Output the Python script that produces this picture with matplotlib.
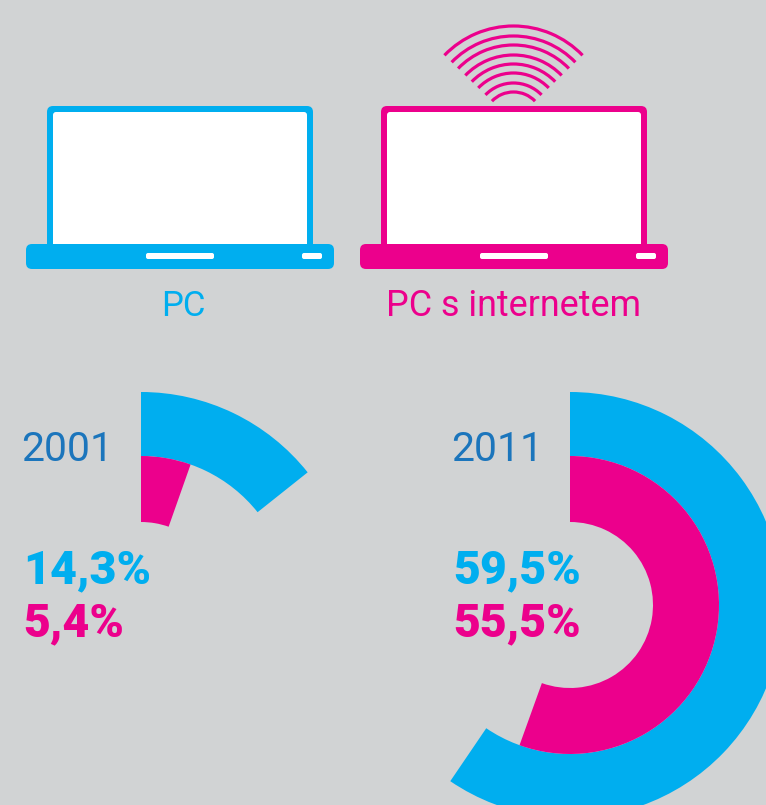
import matplotlib
matplotlib.use("Agg")
import matplotlib.pyplot as plt
from matplotlib.patches import Wedge, FancyBboxPatch

BG = "#D1D3D4"
BLUE = "#00AEEF"
PINK = "#EC008C"
YEAR = "#1B75BC"

years = ["2001", "2011"]
pc = [14.3, 59.5]
pc_net = [5.4, 55.5]
pc_labels = ["14,3%", "59,5%"]
net_labels = ["5,4%", "55,5%"]
legend = ["PC", "PC s internetem"]

plt.rcParams["font.family"] = ["Roboto", "DejaVu Sans"]

fig = plt.figure(figsize=(7.66, 8.05), dpi=100, facecolor=BG)
ax = fig.add_axes([0, 0, 1, 1])
ax.set_xlim(0, 766); ax.set_ylim(805, 0)
ax.axis("off")


def rbox(x0, y0, x1, y1, r, **kw):
    ax.add_patch(FancyBboxPatch((x0 + r, y0 + r), x1 - x0 - 2 * r, y1 - y0 - 2 * r,
                                boxstyle="round,pad=%g,rounding_size=%g" % (r, r),
                                linewidth=0, **kw))


def laptop(dx, col):
    rbox(47 + dx, 106, 313 + dx, 250, 6, facecolor=col)
    rbox(53 + dx, 112, 307 + dx, 250, 3, facecolor="white")
    rbox(26 + dx, 244, 334 + dx, 269, 6, facecolor=col)
    rbox(146 + dx, 253, 214 + dx, 259, 2, facecolor="white")
    rbox(302 + dx, 253, 322 + dx, 259, 2, facecolor="white")


laptop(0, BLUE)
laptop(334, PINK)
ax.text(183, 306, legend[0], color=BLUE, fontsize=25, fontweight="normal",
        ha="center", va="center")
ax.text(513, 306, legend[1], color=PINK, fontsize=25.8, fontweight="normal",
        ha="center", va="center")

# wifi arcs above the second laptop
for r in [96, 86, 77, 67, 58, 49, 39, 30]:
    ax.add_patch(Wedge((513.5, 122), r + 1.6, -136, -44, width=3.2,
                       facecolor=PINK, linewidth=0))

# rings, clockwise from the top (y axis is inverted so theta grows clockwise)
for cx, yr, a, b, la, lb, tx, lx in zip([141, 570], years, pc, pc_net,
                                        pc_labels, net_labels, [21, 451], [23, 453]):
    ax.add_patch(Wedge((cx, 605), 213, -90, -90 + 3.6 * a, width=64,
                       facecolor=BLUE, linewidth=0))
    ax.add_patch(Wedge((cx, 605), 149, -90, -90 + 3.6 * b, width=66,
                       facecolor=PINK, linewidth=0))
    ax.text(tx, 449, yr, color=YEAR, fontsize=29.5, fontweight="normal",
            ha="left", va="center")
    ax.text(lx, 570, la, color=BLUE, fontsize=33.5, fontweight="black",
            ha="left", va="center")
    ax.text(lx, 623, lb, color=PINK, fontsize=33.5, fontweight="black",
            ha="left", va="center")

fig.savefig("out.png", dpi=100, facecolor=BG)
